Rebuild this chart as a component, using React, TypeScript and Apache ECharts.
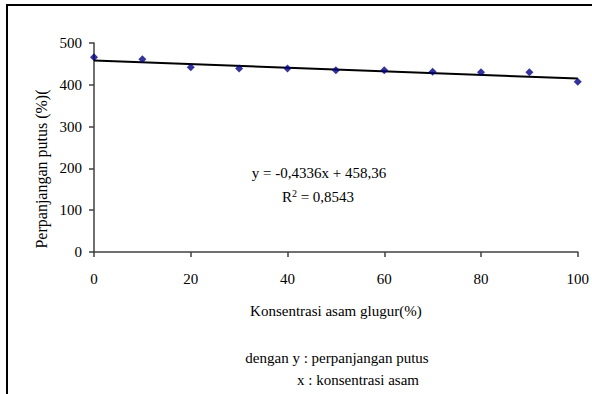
import React, { useEffect, useRef } from "react";
import * as echarts from "echarts";

const concentrations = [0, 10, 20, 30, 40, 50, 60, 70, 80, 90, 100];
const elongation = [466, 461, 442, 439, 439, 435, 435, 431, 430, 430, 407];
const trendX = [0, 100];
const trendY = [458.36, 415.0];
const yTicks = { min: 0, max: 500, interval: 100 };
const xTicks = { min: 0, max: 100, interval: 20 };

const FONT = "Liberation Serif";
const FS = 15;

export default function App() {
  const ref = useRef<HTMLDivElement>(null);
  useEffect(() => {
    if (!ref.current) return;
    const chart = echarts.init(ref.current, undefined, { renderer: "svg" });
    chart.setOption({
      animation: false,
      backgroundColor: "#fff",
      grid: { left: 94, right: 9, top: 43, bottom: 142, containLabel: false },
      xAxis: {
        type: "value",
        min: xTicks.min,
        max: xTicks.max,
        interval: xTicks.interval,
        name: "Konsentrasi asam glugur(%)",
        nameLocation: "middle",
        nameGap: 51,
        nameTextStyle: { fontFamily: FONT, fontSize: FS, color: "#000" },
        axisLine: { show: true, lineStyle: { color: "#404040", width: 1.5 } },
        axisTick: { show: true, inside: false, length: 5, lineStyle: { color: "#404040", width: 1.5 } },
        axisLabel: { fontFamily: FONT, fontSize: FS, color: "#000", margin: 19 },
        splitLine: { show: false },
      },
      yAxis: {
        type: "value",
        min: yTicks.min,
        max: yTicks.max,
        interval: yTicks.interval,
        axisLine: { show: true, lineStyle: { color: "#404040", width: 1.5 } },
        axisTick: { show: true, inside: false, length: 5, lineStyle: { color: "#404040", width: 1.5 } },
        axisLabel: { fontFamily: FONT, fontSize: FS, color: "#000", margin: 12 },
        splitLine: { show: false },
      },
      series: [
        {
          type: "line",
          data: trendX.map((x, i) => [x, trendY[i]]),
          symbol: "none",
          lineStyle: { color: "#000", width: 2 },
          z: 2,
        },
        {
          type: "scatter",
          data: concentrations.map((x, i) => [x, elongation[i]]),
          symbol: "diamond",
          symbolSize: 8,
          itemStyle: { color: "#000080" },
          z: 3,
        },
      ],
      graphic: [
        {
          type: "rect",
          shape: { x: 7, y: 5, width: 620, height: 420 },
          style: { fill: "none", stroke: "#000", lineWidth: 2 },
          silent: true,
        },
        {
          type: "text",
          x: 41,
          y: 169,
          rotation: Math.PI / 2,
          style: {
            text: "Perpanjangan putus (%)(",
            fontFamily: FONT,
            fontSize: 16,
            fill: "#000",
            textAlign: "center",
            textVerticalAlign: "middle",
          },
        },
        {
          type: "text",
          x: 319,
          y: 173,
          style: {
            text: "y = -0,4336x + 458,36",
            fontFamily: FONT,
            fontSize: FS,
            fill: "#000",
            textAlign: "center",
            textVerticalAlign: "middle",
          },
        },
        {
          type: "text",
          x: 318,
          y: 197,
          style: {
            text: "R{sup|2} = 0,8543",
            fontFamily: FONT,
            fontSize: FS,
            fill: "#000",
            textAlign: "center",
            textVerticalAlign: "middle",
            rich: {
              sup: { fontFamily: FONT, fontSize: 10, fill: "#000", verticalAlign: "top", padding: [0, 0, 8, 0] },
            },
          },
        },
        {
          type: "text",
          x: 337,
          y: 358,
          style: {
            text: "dengan y : perpanjangan putus",
            fontFamily: FONT,
            fontSize: FS,
            fill: "#000",
            textAlign: "center",
            textVerticalAlign: "middle",
          },
        },
        {
          type: "text",
          x: 358,
          y: 380,
          style: {
            text: "x : konsentrasi asam",
            fontFamily: FONT,
            fontSize: FS,
            fill: "#000",
            textAlign: "center",
            textVerticalAlign: "middle",
          },
        },
      ],
    });
    return () => chart.dispose();
  }, []);
  return (
    <div
      ref={ref}
      style={{ position: "fixed", left: 0, top: 0, width: 592, height: 394 }}
    />
  );
}
